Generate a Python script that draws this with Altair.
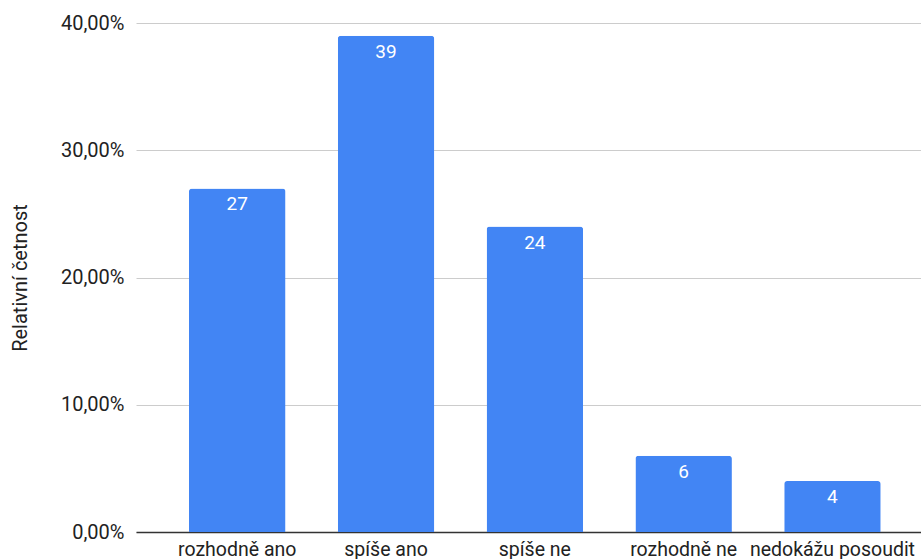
import altair as alt
import pandas as pd

categories = ["rozhodně ano", "spíše ano", "spíše ne", "rozhodně ne", "nedokážu posoudit"]
counts = [27, 39, 24, 6, 4]
relative = [0.27, 0.39, 0.24, 0.06, 0.04]

df = pd.DataFrame({"kategorie": categories, "pocet": counts, "rel": relative})

FONT = "Roboto"

x = alt.X(
    "kategorie:N",
    sort=categories,
    title=None,
    scale=alt.Scale(paddingInner=0.3515, paddingOuter=0.3135, align=0.568),
    axis=alt.Axis(
        labelAngle=0,
        labelFontSize=19.5,
        labelFont=FONT,
        labelColor="#222222",
        labelPadding=8,
        ticks=False,
        domainColor="#333333",
        domainWidth=1.5,
        grid=False,
    ),
)
y = alt.Y(
    "rel:Q",
    title="Relativní četnost",
    scale=alt.Scale(domain=[0, 0.4], nice=False),
    axis=alt.Axis(
        values=[0, 0.1, 0.2, 0.3, 0.4],
        labelExpr="replace(format(datum.value, '.2%'), '.', ',')",
        labelFontSize=20,
        labelFont=FONT,
        labelColor="#222222",
        labelPadding=12,
        ticks=False,
        domain=False,
        gridColor="#cccccc",
        gridWidth=1,
        titleFont=FONT,
        titleFontSize=20,
        titleFontWeight="normal",
        titleColor="#222222",
        titlePadding=30,
    ),
)

bars = alt.Chart(df).mark_bar(
    color="#4285F4", cornerRadiusTopLeft=3, cornerRadiusTopRight=3
).encode(x=x, y=y)

labels = alt.Chart(df).mark_text(
    color="white", font=FONT, fontSize=19, baseline="middle", dy=16
).encode(x=alt.X("kategorie:N", sort=categories), y="rel:Q", text="pocet:Q")

chart = (
    alt.layer(bars, labels)
    .properties(
        width=785,
        height=509,
        padding={"left": 136, "top": 23, "right": 0, "bottom": 27},
        autosize=alt.AutoSizeParams(type="none"),
        background="white",
    )
    .configure_view(stroke=None)
)

chart.save("out.html", embed_options={"renderer": "svg", "actions": False})
